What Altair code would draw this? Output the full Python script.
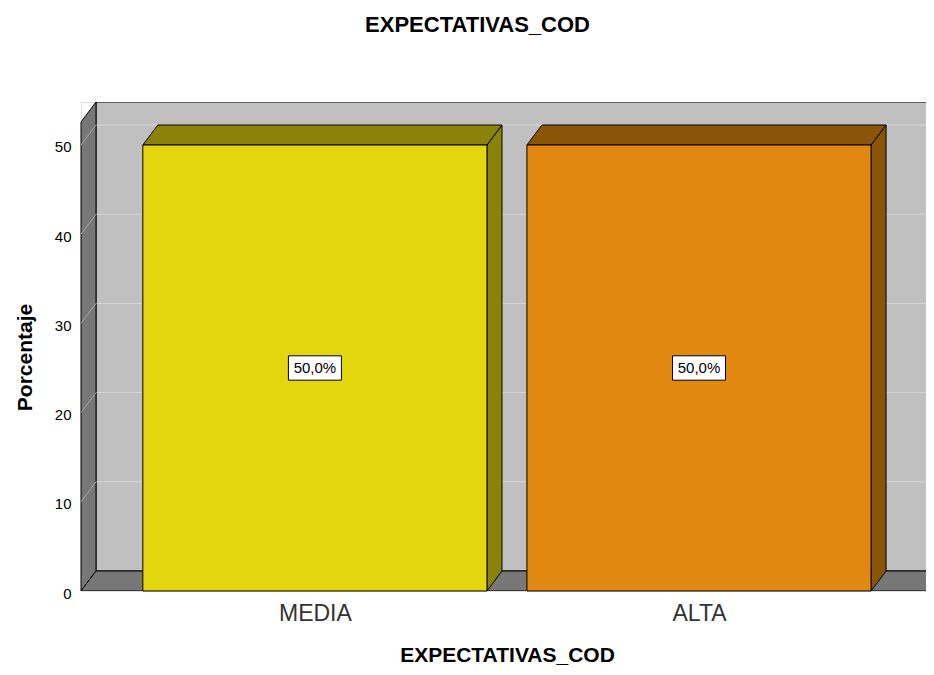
import json
import altair as alt
import pandas as pd

# ---- data ----
categories = ["MEDIA", "ALTA"]
percentages = [50.0, 50.0]
y_ticks = [0, 10, 20, 30, 40, 50]
front_colors = ["#E3D60F", "#E0880F"]
face_colors = ["#8B8309", "#8A5409"]

# ---- layout constants (pixels of the plot view) ----
W, H = 845, 489
X0, X1 = -0.609, 1.591
Y0, Y1 = 0.0, 54.82
DX = 15 * (X1 - X0) / W      # 3-D depth offset, x
DY = 20 * (Y1 - Y0) / H      # 3-D depth offset, y
HALF = 0.448                 # half bar width in category units
XR = X1 + 0.2                # walls run past the clipped right edge
FONT = "Arial"

xs = alt.Scale(domain=[X0, X1], nice=False, zero=False)
ys = alt.Scale(domain=[Y0, Y1], nice=False, zero=False)

x_axis = alt.Axis(
    values=[0, 1], labelExpr=f"{json.dumps(categories)}[round(datum.value)]",
    ticks=False, domain=False, grid=False, labelFlush=False,
    labelPadding=11, labelFontSize=23, labelColor="#333333", labelFont=FONT,
    titleFontSize=21, titleFontWeight="bold", titleFont=FONT, titleColor="#000000",
    titlePadding=19, titleX=426,
)
y_axis = alt.Axis(
    values=y_ticks, ticks=False, domain=False, grid=False, labelFlush=False,
    labelPadding=10, labelFontSize=15, labelColor="#000000", labelFont=FONT, labelOffset=2,
    titleFontSize=21, titleFontWeight="bold", titleFont=FONT, titleColor="#000000",
    titlePadding=19, titleY=255,
)


def X(f):
    return alt.X(f, type="quantitative", scale=xs, axis=x_axis, title="EXPECTATIVAS_COD")


def Y(f):
    return alt.Y(f, type="quantitative", scale=ys, axis=y_axis, title="Porcentaje", stack=False)


# back wall
back = pd.DataFrame([{"x": X0 + DX, "x2": XR, "y": DY, "y2": Y1}])
back_layer = alt.Chart(back).mark_rect(fill="#C0C0C0", stroke="#000000", strokeWidth=1,
                                       clip=True).encode(
    x=X("x"), x2=alt.X2("x2"), y=Y("y"), y2=alt.Y2("y2"))

grid_vals = [v for v in y_ticks if v > 0]
grid = pd.DataFrame({"x": [X0 + DX] * len(grid_vals), "x2": [XR] * len(grid_vals),
                     "y": [v + DY for v in grid_vals]})
grid_layer = alt.Chart(grid).mark_rule(color="#D6D6D6", strokeWidth=1, clip=True).encode(
    x=X("x"), x2=alt.X2("x2"), y=Y("y"))

# left wall
left = pd.DataFrame([{"x": X0, "y": 0.0, "y2": Y1 - DY}, {"x": X0 + DX, "y": DY, "y2": Y1}])
left_layer = alt.Chart(left).mark_area(orient="vertical", fill="#777777", stroke="#000000",
                                       strokeWidth=1).encode(x=X("x"), y=Y("y"), y2=alt.Y2("y2"))

diag = pd.DataFrame({"x": [X0] * len(grid_vals), "x2": [X0 + DX] * len(grid_vals),
                     "y": grid_vals, "y2": [v + DY for v in grid_vals]})
diag_layer = alt.Chart(diag).mark_rule(color="#A8A8A8", strokeWidth=1).encode(
    x=X("x"), x2=alt.X2("x2"), y=Y("y"), y2=alt.Y2("y2"))

# floor
floor = pd.DataFrame([{"y": 0.0, "x": X0, "x2": XR}, {"y": DY, "x": X0 + DX, "x2": XR}])
floor_layer = alt.Chart(floor).mark_area(orient="horizontal", fill="#777777", stroke="#000000",
                                         strokeWidth=1, clip=True).encode(
    y=Y("y"), x=X("x"), x2=alt.X2("x2"))

# bars
side_rows, top_rows, front_rows = [], [], []
for i, (c, v) in enumerate(zip(categories, percentages)):
    side_rows += [
        {"face": c + "_s", "fill": face_colors[i], "x": i + HALF, "y": 0.0, "y2": v},
        {"face": c + "_s", "fill": face_colors[i], "x": i + HALF + DX, "y": DY, "y2": v + DY},
    ]
    top_rows += [
        {"face": c + "_t", "fill": face_colors[i], "y": v, "x": i - HALF, "x2": i + HALF},
        {"face": c + "_t", "fill": face_colors[i], "y": v + DY, "x": i - HALF + DX, "x2": i + HALF + DX},
    ]
    front_rows.append({"cat": c, "fill": front_colors[i], "x": i - HALF, "x2": i + HALF,
                       "y": 0.0, "y2": v, "mid": v / 2,
                       "xc": float(i), "label": f"{v:.1f}".replace(".", ",") + "%"})

side_layer = alt.Chart(pd.DataFrame(side_rows)).mark_area(
    orient="vertical", stroke="#000000", strokeWidth=1).encode(
    x=X("x"), y=Y("y"), y2=alt.Y2("y2"), fill=alt.Fill("fill:N", scale=None), detail="face:N")

top_layer = alt.Chart(pd.DataFrame(top_rows)).mark_area(
    orient="horizontal", stroke="#000000", strokeWidth=1).encode(
    y=Y("y"), x=X("x"), x2=alt.X2("x2"), fill=alt.Fill("fill:N", scale=None), detail="face:N")

fronts = pd.DataFrame(front_rows)
front_layer = alt.Chart(fronts).mark_rect(stroke="#000000", strokeWidth=1).encode(
    x=X("x"), x2=alt.X2("x2"), y=Y("y"), y2=alt.Y2("y2"), fill=alt.Fill("fill:N", scale=None))

box_layer = alt.Chart(fronts).mark_point(
    shape="M-1,-0.46L1,-0.46L1,0.46L-1,0.46Z", size=2809, filled=True,
    fill="#FFFFFF", stroke="#000000", strokeWidth=1, opacity=1).encode(
    x=X("xc"), y=Y("mid"))

text_layer = alt.Chart(fronts).mark_text(font=FONT, fontSize=15, color="#000000").encode(
    x=X("xc"), y=Y("mid"), text="label:N")

chart = alt.layer(
    back_layer, grid_layer, left_layer, diag_layer, floor_layer,
    side_layer, top_layer, front_layer, box_layer, text_layer,
).properties(
    width=W, height=H,
    title=alt.Title("EXPECTATIVAS_COD", fontSize=22, fontWeight="bold", font=FONT,
                    color="#000000", offset=63, anchor="middle", frame="group", dx=-26),
    autosize=alt.AutoSizeParams(type="none"),
    padding={"left": 73, "top": 94, "right": 0, "bottom": 76},
).configure_view(stroke=None).configure(background="#FFFFFF")

chart.save("out.html", embed_options={"renderer": "svg", "actions": False})
